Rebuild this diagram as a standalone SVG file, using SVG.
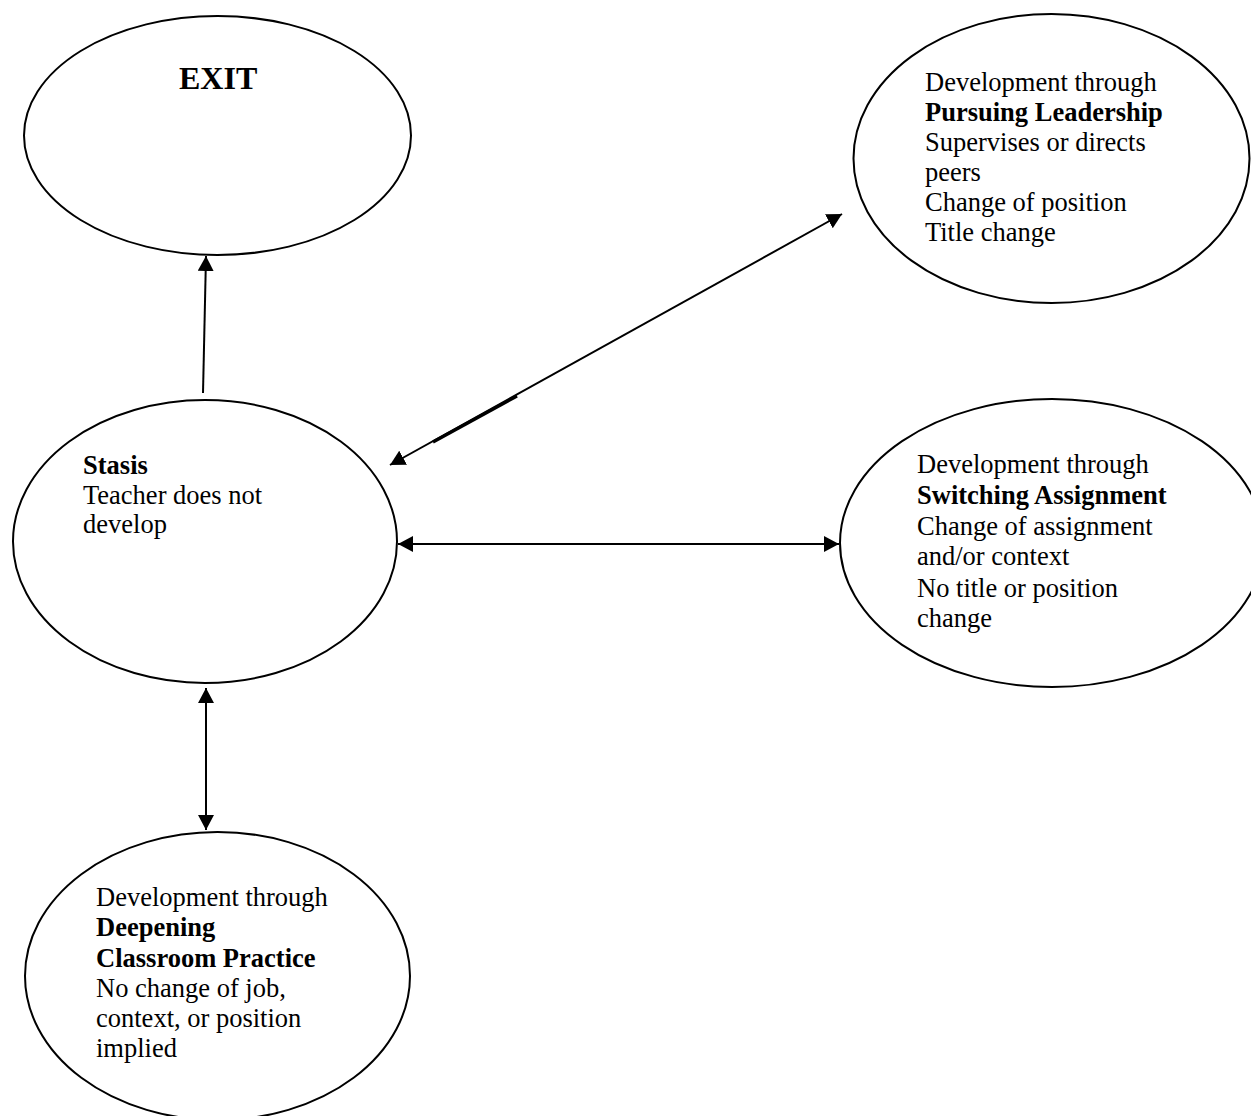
<svg xmlns="http://www.w3.org/2000/svg" width="1251" height="1116" viewBox="0 0 1251 1116">
<style>
.node{fill:#fff;stroke:#000;stroke-width:2}
.t{font-family:"Liberation Serif","Times New Roman",serif;font-size:26.5px;fill:#000}
.b{font-weight:bold}
.c{stroke:#000;stroke-width:2;fill:none}
</style>
<defs>
<marker id="ah" markerUnits="userSpaceOnUse" markerWidth="15" markerHeight="16" refX="15" refY="8" orient="auto-start-reverse" viewBox="0 0 15 16">
<path d="M0,0 L15,8 L0,16 z" fill="#000"/>
</marker>
</defs>
<rect width="1251" height="1116" fill="#fff"/>
<g id="exit">
<ellipse class="node" cx="217.5" cy="135.5" rx="193.5" ry="119.5"/>
<text class="t b" x="179" y="89" style="font-size:32px">EXIT</text>
</g>
<g id="leadership">
<ellipse class="node" cx="1051.5" cy="158.5" rx="198" ry="144.5"/>
<text class="t" x="925" y="91">Development through</text>
<text class="t b" x="925" y="121">Pursuing Leadership</text>
<text class="t" x="925" y="151">Supervises or directs</text>
<text class="t" x="925" y="181">peers</text>
<text class="t" x="925" y="211">Change of position</text>
<text class="t" x="925" y="241">Title change</text>
</g>
<g id="stasis">
<ellipse class="node" cx="205" cy="541.5" rx="192" ry="141.5"/>
<text class="t b" x="83" y="474">Stasis</text>
<text class="t" x="83" y="504">Teacher does not</text>
<text class="t" x="83" y="533">develop</text>
</g>
<g id="switching">
<ellipse class="node" cx="1052" cy="543" rx="212" ry="144"/>
<text class="t" x="917" y="473">Development through</text>
<text class="t b" x="917" y="504">Switching Assignment</text>
<text class="t" x="917" y="535">Change of assignment</text>
<text class="t" x="917" y="565">and/or context</text>
<text class="t" x="917" y="597">No title or position</text>
<text class="t" x="917" y="627">change</text>
</g>
<g id="deepening">
<ellipse class="node" cx="217.5" cy="976" rx="192.5" ry="144"/>
<text class="t" x="96" y="906">Development through</text>
<text class="t b" x="96" y="936">Deepening</text>
<text class="t b" x="96" y="967">Classroom Practice</text>
<text class="t" x="96" y="997">No change of job,</text>
<text class="t" x="96" y="1027">context, or position</text>
<text class="t" x="96" y="1057">implied</text>
</g>
<g id="connectors">
<line class="c" x1="203" y1="393" x2="206" y2="256" marker-end="url(#ah)"/>
<line class="c" x1="842" y1="214" x2="390" y2="465" marker-start="url(#ah)" marker-end="url(#ah)"/>
<line x1="433" y1="442" x2="517" y2="396" stroke="#000" stroke-width="3.2"/>
<line class="c" x1="398" y1="544" x2="839" y2="544" marker-start="url(#ah)" marker-end="url(#ah)"/>
<line class="c" x1="206" y1="688" x2="206" y2="830" marker-start="url(#ah)" marker-end="url(#ah)"/>
</g>
</svg>
